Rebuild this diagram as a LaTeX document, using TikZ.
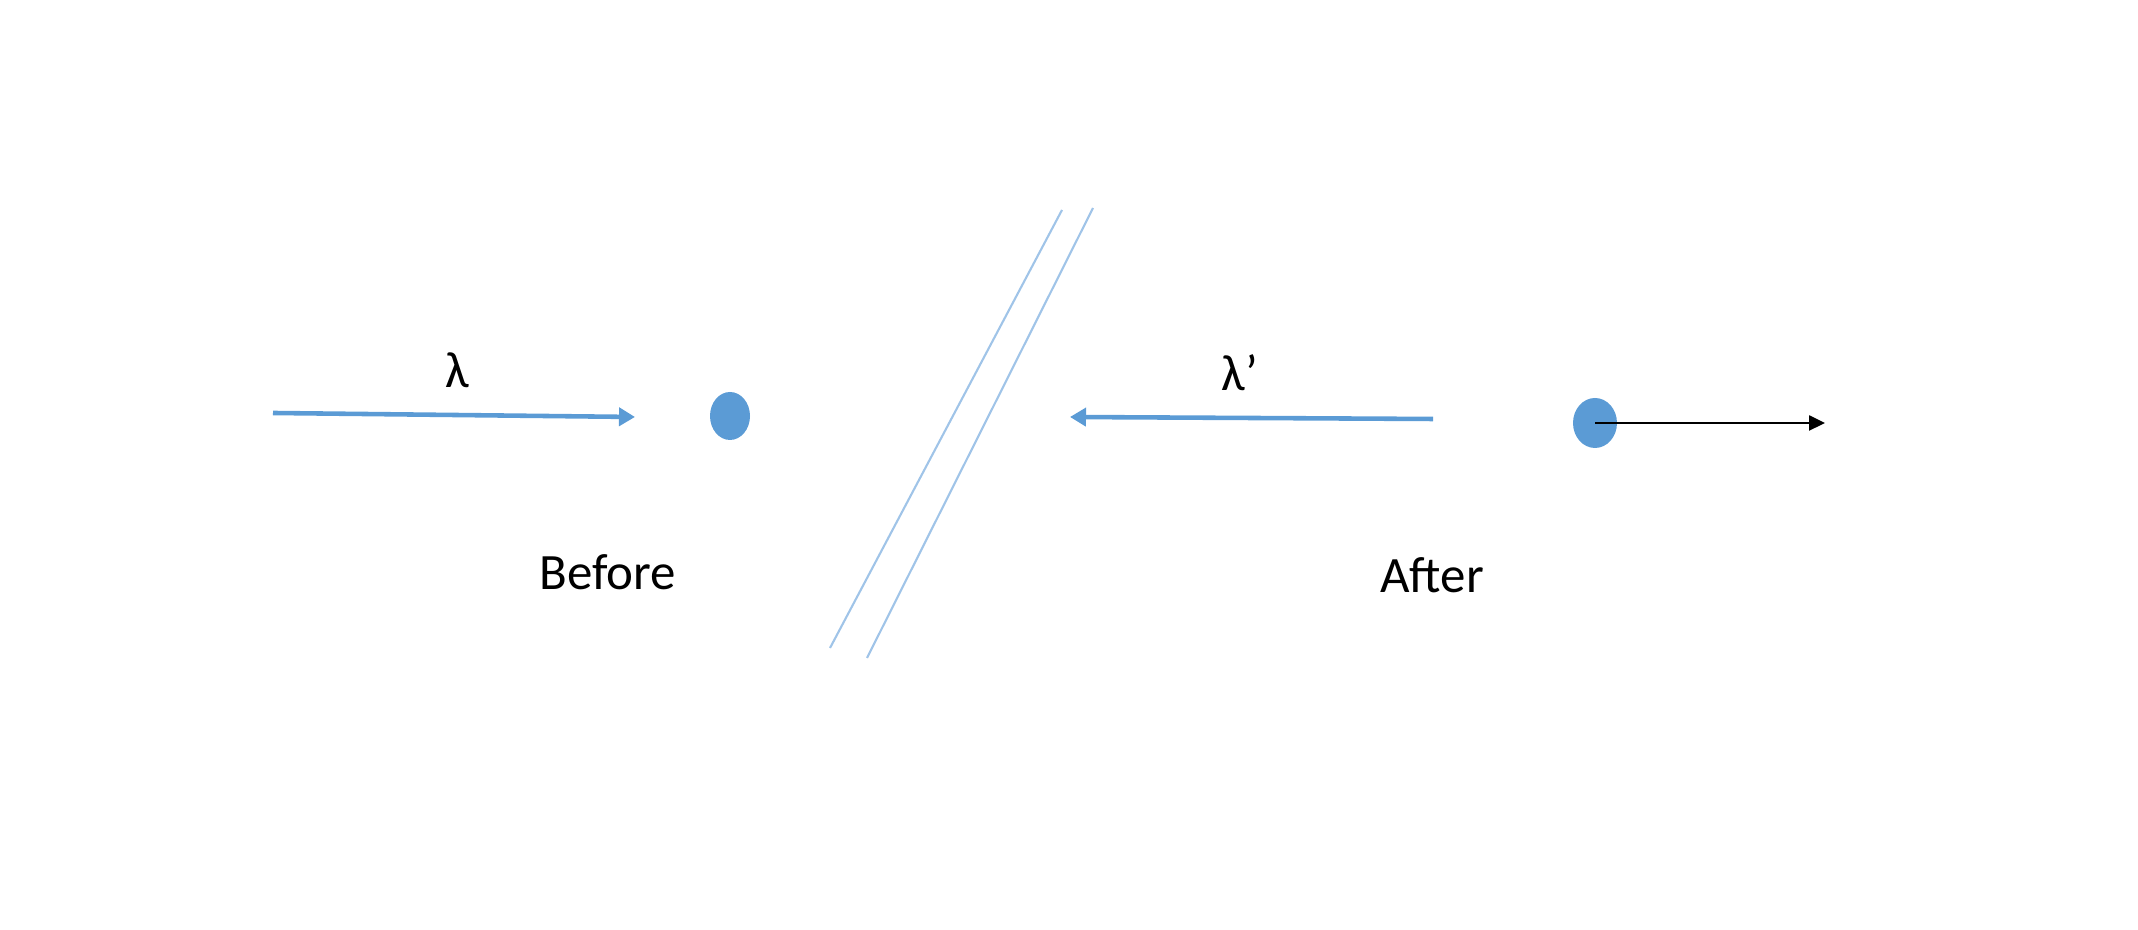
\documentclass[tikz,border=0pt]{standalone}
\usepackage{fontspec}
\setmainfont{Carlito}
\usetikzlibrary{shapes.geometric, arrows.meta, positioning}
\definecolor{photonblue}{RGB}{91,155,213}
\definecolor{linkblue}{RGB}{160,196,232}

\begin{document}
\begin{tikzpicture}[
        node distance=1.5cm,
        particle/.style={ellipse, fill=photonblue, draw=none, minimum width=0.40cm, minimum height=0.48cm, inner sep=0pt},
        wave/.style={photonblue, line width=1.3pt, -{Triangle[length=0.16cm, width=0.18cm]}},
        label/.style={font=\fontsize{14.5}{17}\selectfont, inner sep=0pt}
    ]
        \useasboundingbox (0,0) rectangle (21.38,9.30);
        % before the collision
        \node[particle] (e1) at (7.30,5.14) {};
        \coordinate (src1) at (2.73,5.17);
        \coordinate (tip1) at (6.35,5.13);
        \node[label] (lam1) at (4.57,5.60) {λ};
        \node[label] (before) at (6.08,3.58) {Before};
        \draw[wave] (src1) -- (tip1);

        % the break between the two scenes
        \draw[linkblue, line width=0.6pt] (10.62,7.20) -- (8.30,2.82);
        \draw[linkblue, line width=0.6pt] (10.93,7.22) -- (8.67,2.72);

        % after the collision
        \node[particle, minimum width=0.44cm, minimum height=0.50cm] (e2) at (15.95,5.07) {};
        \coordinate (src2) at (14.33,5.11);
        \coordinate (tip2) at (10.70,5.13);
        \coordinate (kick) at (18.25,5.07);
        \node[label] (lam2) at (12.40,5.57) {λ’};
        \node[label] (after) at (14.32,3.55) {After};
        \draw[wave] (src2) -- (tip2);
        \draw[black, line width=0.7pt, -{Triangle[length=0.16cm, width=0.15cm]}] (e2.center) -- (kick);
    \end{tikzpicture}
\end{document}
